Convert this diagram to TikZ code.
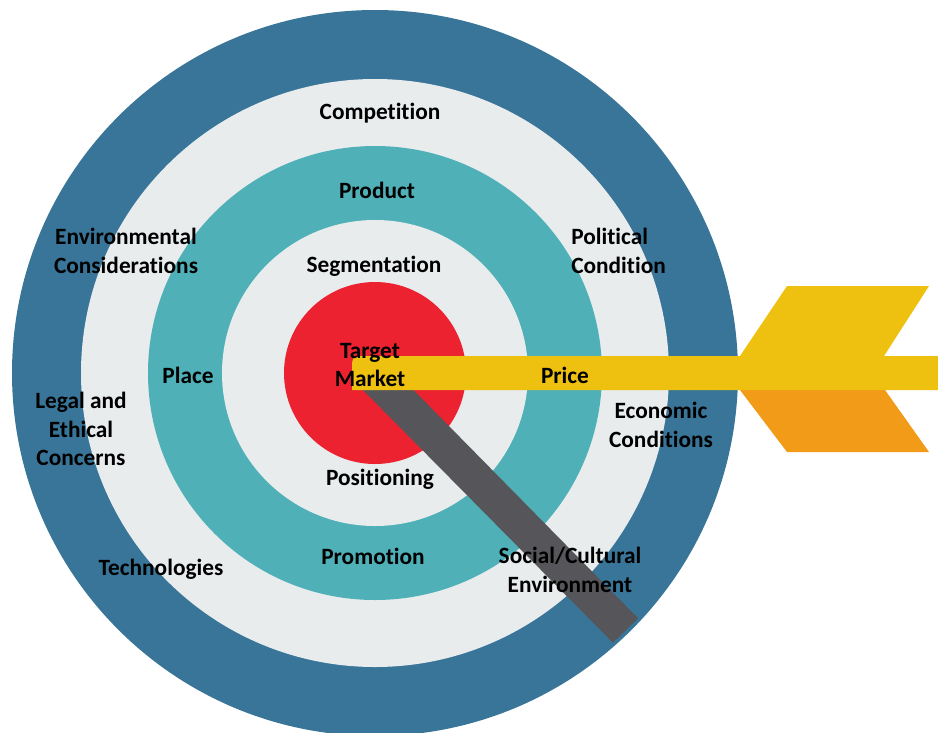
\documentclass[tikz,border=0pt]{standalone}
\usepackage{fontspec}
\setmainfont{Carlito}[Ligatures=NoCommon]
\definecolor{ringblue}{RGB}{56,117,152}
\definecolor{ringgray}{RGB}{232,236,237}
\definecolor{ringteal}{RGB}{79,176,184}
\definecolor{bullred}{RGB}{236,34,48}
\definecolor{shaftyellow}{RGB}{238,193,16}
\definecolor{featherorange}{RGB}{242,155,25}
\definecolor{shaftgray}{RGB}{86,86,90}
\begin{document}
\begin{tikzpicture}[x=0.75pt,y=-0.75pt,
  lbl/.style={font=\bfseries\fontsize{17.5}{21.5}\selectfont, align=center, inner sep=0pt, text=black}]
\useasboundingbox (0,0) rectangle (938,732);
\clip (0,0) rectangle (938,732);

% concentric rings of the target
\coordinate (c) at (375,373);
\fill[ringblue] (c) circle (272.25pt);
\fill[ringgray] (c) circle (220.5pt);
\fill[ringteal] (c) circle (170.25pt);
\fill[ringgray] (c) circle (114.75pt);
\fill[bullred]  (c) circle (68.25pt);

% second (gray) arrow shaft
\fill[shaftgray] (360,387) -- (385,361) -- (638.1,618.3) -- (612.9,642.7) -- cycle;

% yellow arrow: shaft and upper feather
\fill[shaftyellow] (938,390) -- (352,390) -- (352,371)
  .. controls (352,356) .. (367,356) -- (938,356) -- cycle;
\fill[shaftyellow] (740,356) -- (787,286) -- (929,286) -- (884,356) -- cycle;
% lower feather
\fill[featherorange] (740,390) -- (787,452) -- (929,452) -- (885,390) -- cycle;

% labels
\node[lbl] (competition) at (380,113) {Competition};
\node[lbl] (product) at (377,190) {Product};
\node[lbl] (environmental) at (126,251) {Environmental\\Considerations};
\node[lbl, align=left, anchor=west] (political) at (571,251) {Political\\Condition};
\node[lbl] (segmentation) at (374,266) {Segmentation};
\node[lbl] (target) at (370,365) {Target\\Market};
\node[lbl] (place) at (188,375) {Place};
\node[lbl] (price) at (565,375) {Price};
\node[lbl] (legal) at (81,429) {Legal and\\Ethical\\Concerns};
\node[lbl] (economic) at (661,425) {Economic\\Conditions};
\node[lbl] (positioning) at (380,479) {Positioning};
\node[lbl] (promotion) at (373,556) {Promotion};
\node[lbl] (technologies) at (161,569) {Technologies};
\node[lbl] (social) at (570,570) {Social/Cultural\\Environment};
\end{tikzpicture}
\end{document}
